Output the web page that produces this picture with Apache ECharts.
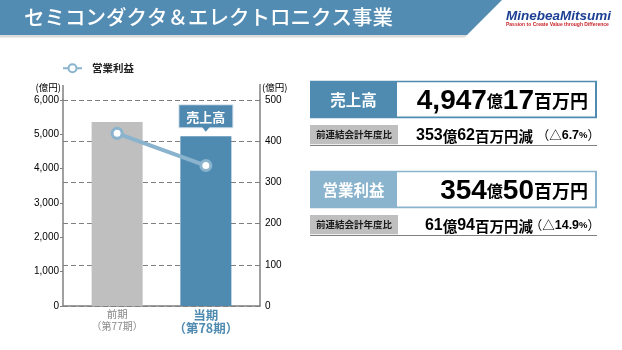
<!DOCTYPE html>
<html><head><meta charset="utf-8">
<script src="https://cdn.jsdelivr.net/npm/echarts@6/dist/echarts.min.js"></script>
<style>html,body{margin:0;padding:0;background:#fff}#c{width:622px;height:350px}</style>
</head><body><div id="c"></div>
<script>
// ---- data ----
const categories = ['前期', '当期'];
const periodLabels = ['（第77期）', '（第78期）'];
const salesValues = [5360, 4947];     // 売上高 (億円), left axis
const profitValues = [419, 341];      // 営業利益 (億円), right axis
const leftTicks = [0, 1000, 2000, 3000, 4000, 5000, 6000];
const rightTicks = [0, 100, 200, 300, 400, 500];
const axisUnit = '(億円)';
const titleText = 'セミコンダクタ＆エレクトロニクス事業';
const salesTotal = ['4,947', '億', '17', '百万円'];
const salesChange = ['353', '億', '62', '百万円減'];
const salesChangePct = '6.7';
const profitTotal = ['354', '億', '50', '百万円'];
const profitChange = ['61', '億', '94', '百万円減'];
const profitChangePct = '14.9';

// ---- styles ----
const FF = "'Liberation Sans','Noto Sans CJK JP',sans-serif";
const CJK = "'Noto Sans CJK JP','Liberation Sans',sans-serif";
const LAT = "'Liberation Sans',sans-serif";
const BLUE = '#4f8bb1';
const LIGHTBLUE = '#8ab3cd';
const GRAY = '#bfbfbf';
const AXIS = '#808080';

const chart = echarts.init(document.getElementById('c'));

function totalText(p) { return '{n|' + p[0] + '}{k1|' + p[1] + '}{n|' + p[2] + '}{k2|' + p[3] + '}'; }
function changeText(p) { return '{n|' + p[0] + '}{k|' + p[1] + '}{n|' + p[2] + '}{k|' + p[3] + '}'; }
function pctText(v) { return '{p|（}{t|△}{d|' + v + '}{s|%}{p|）}'; }

const richTotal = {
  n: { fontSize: 28, fontWeight: 'bold', fontFamily: LAT, color: '#000', lineHeight: 30 },
  k1: { fontSize: 16, fontWeight: 'bold', fontFamily: CJK, color: '#000', lineHeight: 30 },
  k2: { fontSize: 18, fontWeight: 'bold', fontFamily: CJK, color: '#000', lineHeight: 30 }
};
const richChange = {
  n: { fontSize: 16, fontWeight: 'bold', fontFamily: LAT, color: '#111', lineHeight: 18 },
  k: { fontSize: 14.5, fontWeight: 'bold', fontFamily: CJK, color: '#111', lineHeight: 18 }
};
const richPct = {
  p: { fontSize: 12.5, fontFamily: CJK, color: '#6b9bc3', lineHeight: 18 },
  t: { fontSize: 12.5, fontFamily: CJK, color: '#6b9bc3', lineHeight: 18 },
  d: { fontSize: 12.5, fontWeight: 'bold', fontFamily: LAT, color: '#6b9bc3', lineHeight: 18 },
  s: { fontSize: 9.5, fontWeight: 'bold', fontFamily: LAT, color: '#6b9bc3', lineHeight: 18 }
};

function panel(y0, labelText, labelColor, total, change, pct) {
  return [
    { type: 'rect', shape: { x: 310, y: y0, width: 287, height: 37.5 }, style: { fill: labelColor } },
    { type: 'rect', shape: { x: 397, y: y0 + 1.6, width: 198, height: 34.3 }, style: { fill: '#fff' } },
    { type: 'text', x: 353.5, y: y0 + 19, style: { text: labelText, fill: '#fff', font: 'bold 15.5px ' + CJK, align: 'center', verticalAlign: 'middle' } },
    { type: 'text', x: 588, y: y0 + 20.6, style: { text: totalText(total), rich: richTotal, align: 'right', verticalAlign: 'middle' } },
    { type: 'rect', shape: { x: 310, y: y0 + 44.3, width: 88, height: 19.2 }, style: { fill: GRAY } },
    { type: 'text', x: 354, y: y0 + 54, style: { text: '前連結会計年度比', fill: '#1a1a1a', font: 'bold 9.5px ' + CJK, align: 'center', verticalAlign: 'middle' } },
    { type: 'line', shape: { x1: 310, y1: y0 + 64.8, x2: 597, y2: y0 + 64.8 }, style: { stroke: AXIS, lineWidth: 1 } },
    { type: 'text', x: 533, y: y0 + 55.3, style: { text: changeText(change), rich: richChange, align: 'right', verticalAlign: 'middle' } },
    { type: 'text', x: 600, y: y0 + 55, style: { text: pctText(pct), rich: richPct, align: 'right', verticalAlign: 'middle' } }
  ];
}

const graphics = [
  { type: 'polygon', shape: { points: [[0, 35], [467, 35], [465, 37.5], [0, 37.5]] }, style: { fill: '#dcdcdc' } },
  { type: 'polygon', shape: { points: [[0, 0], [502, 0], [467, 35], [0, 35]] }, style: { fill: '#538cb3' } },
  { type: 'text', x: 24, y: 17, style: { text: titleText, fill: '#fff', font: '500 20.5px ' + CJK, verticalAlign: 'middle' } },
  { type: 'text', x: 506, y: 16, style: { text: 'MinebeaMitsumi', fill: '#1c3f94', font: 'italic bold 13.5px ' + LAT, verticalAlign: 'middle' } },
  { type: 'text', x: 506, y: 24.7, style: { text: 'Passion to Create Value through Difference', fill: '#c9252c', font: 'bold 5px ' + LAT, verticalAlign: 'middle' } }
].concat(panel(80.7, '売上高', BLUE, salesTotal, salesChange, salesChangePct))
 .concat(panel(170.7, '営業利益', LIGHTBLUE, profitTotal, profitChange, profitChangePct));

const option = {
  animation: false,
  backgroundColor: '#fff',
  textStyle: { fontFamily: FF },
  grid: { left: 63, right: 362, top: 100, bottom: 44 },
  legend: {
    data: ['営業利益'], left: 62, top: 63, padding: 0, itemWidth: 19, itemHeight: 10,
    textStyle: { fontSize: 10.5, fontWeight: 'bold', color: '#222', fontFamily: CJK, padding: [0, 0, 0, 5] }
  },
  xAxis: {
    type: 'value', min: -0.61, max: 1.61,
    axisLine: { show: true, onZero: false, lineStyle: { color: AXIS, width: 1.5 } },
    axisTick: { show: false }, splitLine: { show: false },
    axisLabel: {
      customValues: categories.map((c, i) => i), margin: 2,
      formatter: function (v) {
        const i = Math.round(v);
        return i === 0 ? '{a|' + categories[i] + '}\n{b|' + periodLabels[i] + '}'
                       : '{c|' + categories[i] + '}\n{d|' + periodLabels[i] + '}';
      },
      rich: {
        a: { fontSize: 10.5, color: '#8a8a8a', lineHeight: 12, fontFamily: CJK },
        b: { fontSize: 10, color: '#8a8a8a', lineHeight: 12, fontFamily: CJK },
        c: { fontSize: 12.5, fontWeight: 'bold', color: BLUE, lineHeight: 13.5, fontFamily: CJK },
        d: { fontSize: 12.5, fontWeight: 'bold', color: BLUE, lineHeight: 13.5, fontFamily: CJK }
      }
    }
  },
  yAxis: [{
    type: 'value', position: 'left',
    min: leftTicks[0], max: leftTicks[leftTicks.length - 1], interval: leftTicks[1] - leftTicks[0],
    axisLine: { show: true, onZero: false, lineStyle: { color: AXIS, width: 1.5 } },
    axisTick: { show: true, length: 3, lineStyle: { color: AXIS } },
    axisLabel: { fontSize: 10, color: '#000', margin: 4, formatter: v => v.toLocaleString('en-US') },
    splitLine: { show: false }
  }, {
    type: 'value', position: 'right',
    min: rightTicks[0], max: rightTicks[rightTicks.length - 1], interval: rightTicks[1] - rightTicks[0],
    axisLine: { show: true, onZero: false, lineStyle: { color: AXIS, width: 1.5 } },
    axisTick: { show: true, inside: true, length: 3, lineStyle: { color: AXIS } },
    axisLabel: { fontSize: 10, color: '#000', margin: 5 },
    splitLine: { show: true, lineStyle: { color: AXIS, type: [5, 3], width: 1 } }
  }],
  series: [{
    type: 'bar', name: '売上高', xAxisIndex: 0, yAxisIndex: 0, barWidth: 51,
    data: salesValues.map((v, i) => ({
      value: [i, v],
      itemStyle: { color: i === 0 ? GRAY : BLUE },
      label: i === 1 ? {
        show: true, position: 'top', distance: 9, formatter: '売上高',
        color: '#fff', fontSize: 13, fontWeight: 'bold', fontFamily: CJK,
        backgroundColor: '#5089b0', borderColor: '#d5e2ec', borderWidth: 1,
        padding: [4, 7, 3, 7], lineHeight: 15
      } : { show: false }
    })),
    markPoint: {
      silent: true, symbol: 'triangle', symbolSize: [8, 5], symbolRotate: 180, symbolOffset: [0, -7],
      itemStyle: { color: '#5089b0' }, label: { show: false },
      data: [{ coord: [1, salesValues[1]] }]
    }
  }, {
    type: 'line', name: '営業利益', xAxisIndex: 0, yAxisIndex: 1, z: 5,
    data: profitValues.map((v, i) => [i, v]),
    symbol: 'circle', symbolSize: 10, showSymbol: true,
    lineStyle: { color: LIGHTBLUE, width: 4 },
    itemStyle: { color: '#fff', borderColor: LIGHTBLUE, borderWidth: 3 }
  }],
  graphic: graphics
};
chart.setOption(option);

// axis units and short extensions of both y axis lines above the plot top
const tl = chart.convertToPixel({ gridIndex: 0 }, [-0.61, leftTicks[leftTicks.length - 1]]);
const tr = chart.convertToPixel({ gridIndex: 0 }, [1.61, leftTicks[leftTicks.length - 1]]);
chart.setOption({
  graphic: graphics.concat([
    { type: 'line', shape: { x1: tl[0], y1: tl[1] - 15, x2: tl[0], y2: tl[1] }, style: { stroke: AXIS, lineWidth: 1.5 } },
    { type: 'line', shape: { x1: tr[0], y1: tr[1] - 16, x2: tr[0], y2: tr[1] }, style: { stroke: AXIS, lineWidth: 1.5 } },
    { type: 'text', x: tl[0] - 2, y: tl[1] - 13, style: { text: axisUnit, fill: '#000', font: '9.5px ' + CJK, align: 'right', verticalAlign: 'middle' } },
    { type: 'text', x: tr[0] + 2, y: tr[1] - 13, style: { text: axisUnit, fill: '#000', font: '9.5px ' + CJK, align: 'left', verticalAlign: 'middle' } }
  ])
});
</script></body></html>
